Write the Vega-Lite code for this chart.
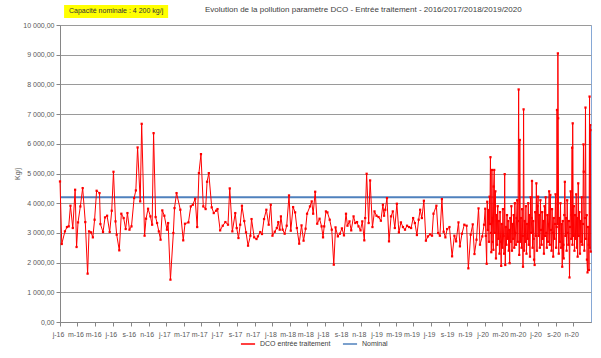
{
"$schema":"https://vega.github.io/schema/vega-lite/v6.json",
"width":531,"height":297,"autosize":"none",
"padding":{"left":60,"top":25,"right":10,"bottom":36},
"background":"white",
"config":{"font":"Liberation Sans","view":{"stroke":"#86A8D6","strokeWidth":1}},
"title":{"text":"Evolution de la pollution paramètre DCO - Entrée traitement - 2016/2017/2018/2019/2020","anchor":"start","frame":"group","dx":145,"offset":-9,"fontSize":8,"fontWeight":"normal","color":"#404040"},
"layer":[
{"data":{"values":[{"d":"2016-001","v":4200},{"d":"2020-366","v":4200}],"format":{"parse":{"d":"date:'%Y-%j'"}}},
"mark":{"type":"line","strokeWidth":1.8},
"encoding":{"x":{"field":"d","type":"temporal"},"y":{"field":"v","type":"quantitative","axis":{"values":[0,1000,2000,3000,4000,5000,6000,7000,8000,9000,10000]}},"color":{"datum":"Nominal","type":"nominal"}}},
{"data":{"values":[
{"d":"2016-001","v":4733},{"d":"2016-007","v":2626},{"d":"2016-018","v":3052},{"d":"2016-025","v":3197},{"d":"2016-031","v":3220},{"d":"2016-037","v":3915},{"d":"2016-045","v":3164},{"d":"2016-053","v":4453},{"d":"2016-058","v":2525},{"d":"2016-063","v":3354},{"d":"2016-071","v":3892},{"d":"2016-079","v":4509},{"d":"2016-088","v":3365},{"d":"2016-096","v":1628},{"d":"2016-101","v":3052},{"d":"2016-108","v":3018},{"d":"2016-114","v":2850},{"d":"2016-120","v":3444},{"d":"2016-127","v":4419},{"d":"2016-137","v":4341},{"d":"2016-140","v":3298},{"d":"2016-149","v":3029},{"d":"2016-156","v":3522},{"d":"2016-163","v":3578},{"d":"2016-172","v":3029},{"d":"2016-179","v":3747},{"d":"2016-185","v":5058},{"d":"2016-192","v":3388},{"d":"2016-196","v":2940},{"d":"2016-205","v":2413},{"d":"2016-212","v":3646},{"d":"2016-220","v":3500},{"d":"2016-227","v":3130},{"d":"2016-233","v":3668},{"d":"2016-240","v":3108},{"d":"2016-247","v":3220},{"d":"2016-256","v":4173},{"d":"2016-262","v":4430},{"d":"2016-268","v":5877},{"d":"2016-277","v":4061},{"d":"2016-282","v":6673},{"d":"2016-292","v":2906},{"d":"2016-297","v":3478},{"d":"2016-304","v":3814},{"d":"2016-312","v":3556},{"d":"2016-318","v":3276},{"d":"2016-323","v":6359},{"d":"2016-330","v":3534},{"d":"2016-335","v":3332},{"d":"2016-341","v":3050},{"d":"2016-347","v":2771},{"d":"2016-353","v":3758},{"d":"2016-360","v":3578},{"d":"2017-003","v":3108},
{"d":"2017-007","v":3332},{"d":"2017-015","v":1426},{"d":"2017-025","v":2996},{"d":"2017-029","v":3836},{"d":"2017-036","v":4341},{"d":"2017-049","v":3780},{"d":"2017-059","v":2749},{"d":"2017-065","v":3309},{"d":"2017-077","v":3354},{"d":"2017-085","v":3892},{"d":"2017-092","v":3948},{"d":"2017-100","v":4150},{"d":"2017-107","v":3197},{"d":"2017-113","v":5013},{"d":"2017-120","v":5652},{"d":"2017-128","v":3892},{"d":"2017-136","v":3803},{"d":"2017-141","v":4722},{"d":"2017-147","v":5013},{"d":"2017-157","v":3859},{"d":"2017-164","v":3668},{"d":"2017-172","v":3747},{"d":"2017-177","v":3803},{"d":"2017-186","v":3085},{"d":"2017-195","v":3242},{"d":"2017-204","v":3365},{"d":"2017-213","v":3276},{"d":"2017-219","v":4498},{"d":"2017-228","v":3052},{"d":"2017-238","v":3668},{"d":"2017-243","v":3164},{"d":"2017-249","v":2827},{"d":"2017-255","v":3276},{"d":"2017-261","v":3915},{"d":"2017-269","v":3399},{"d":"2017-275","v":3018},{"d":"2017-282","v":2570},{"d":"2017-290","v":2906},{"d":"2017-294","v":3466},{"d":"2017-303","v":2850},{"d":"2017-311","v":2794},{"d":"2017-316","v":2883},{"d":"2017-324","v":3029},{"d":"2017-330","v":2962},{"d":"2017-337","v":3466},{"d":"2017-345","v":3780},{"d":"2017-353","v":3276},{"d":"2017-360","v":3948},{"d":"2018-001","v":2906},{"d":"2018-009","v":3040},
{"d":"2018-016","v":3164},{"d":"2018-021","v":3365},{"d":"2018-026","v":3108},{"d":"2018-030","v":3556},{"d":"2018-036","v":3108},{"d":"2018-043","v":2973},{"d":"2018-050","v":3242},{"d":"2018-058","v":4262},{"d":"2018-064","v":3074},{"d":"2018-072","v":3870},{"d":"2018-079","v":3691},{"d":"2018-085","v":3164},{"d":"2018-093","v":2637},{"d":"2018-101","v":3253},{"d":"2018-108","v":2738},{"d":"2018-115","v":3141},{"d":"2018-120","v":3646},{"d":"2018-130","v":3892},{"d":"2018-136","v":4061},{"d":"2018-141","v":3646},{"d":"2018-148","v":4386},{"d":"2018-155","v":3309},{"d":"2018-163","v":3478},{"d":"2018-170","v":3220},{"d":"2018-175","v":2850},{"d":"2018-179","v":3220},{"d":"2018-185","v":3724},{"d":"2018-190","v":3691},{"d":"2018-198","v":3444},{"d":"2018-205","v":3108},{"d":"2018-212","v":1930},{"d":"2018-218","v":3186},{"d":"2018-226","v":2883},{"d":"2018-233","v":2973},{"d":"2018-240","v":3152},{"d":"2018-247","v":2917},{"d":"2018-254","v":3646},{"d":"2018-259","v":3242},{"d":"2018-266","v":3388},{"d":"2018-272","v":3085},{"d":"2018-280","v":3556},{"d":"2018-286","v":3332},{"d":"2018-292","v":3365},{"d":"2018-297","v":3220},{"d":"2018-304","v":3085},{"d":"2018-310","v":3388},{"d":"2018-317","v":2749},{"d":"2018-320","v":3500},{"d":"2018-325","v":4991},{"d":"2018-332","v":3332},{"d":"2018-337","v":4767},{"d":"2018-345","v":3197},{"d":"2018-352","v":3724},{"d":"2018-359","v":3578},{"d":"2019-001","v":3534},{"d":"2019-009","v":3410},{"d":"2019-016","v":3948},
{"d":"2019-020","v":3578},{"d":"2019-024","v":3780},{"d":"2019-030","v":4173},{"d":"2019-037","v":2715},{"d":"2019-044","v":3556},{"d":"2019-050","v":3724},{"d":"2019-057","v":3164},{"d":"2019-064","v":3982},{"d":"2019-071","v":3018},{"d":"2019-078","v":3354},{"d":"2019-085","v":3197},{"d":"2019-092","v":3108},{"d":"2019-099","v":3242},{"d":"2019-106","v":3197},{"d":"2019-113","v":3164},{"d":"2019-120","v":3500},{"d":"2019-126","v":3332},{"d":"2019-133","v":2928},{"d":"2019-139","v":3444},{"d":"2019-144","v":3780},{"d":"2019-150","v":3500},{"d":"2019-157","v":4083},{"d":"2019-164","v":2738},{"d":"2019-171","v":2883},{"d":"2019-178","v":2951},{"d":"2019-185","v":2906},{"d":"2019-190","v":3646},{"d":"2019-200","v":3915},{"d":"2019-206","v":2996},{"d":"2019-212","v":2906},{"d":"2019-219","v":4139},{"d":"2019-225","v":3040},{"d":"2019-231","v":2850},{"d":"2019-237","v":3130},{"d":"2019-245","v":3197},{"d":"2019-254","v":2211},{"d":"2019-262","v":2906},{"d":"2019-268","v":2715},{"d":"2019-276","v":3354},{"d":"2019-281","v":2547},{"d":"2019-288","v":2973},{"d":"2019-296","v":3276},{"d":"2019-304","v":3242},{"d":"2019-310","v":1807},{"d":"2019-318","v":2940},{"d":"2019-325","v":3287},{"d":"2019-331","v":2289},{"d":"2019-338","v":2771},{"d":"2019-345","v":3825},{"d":"2019-350","v":2603},{"d":"2019-358","v":2883},{"d":"2019-364","v":3276},{"d":"2020-003","v":3814},
{"d":"2020-005","v":2900},{"d":"2020-008","v":1960},{"d":"2020-010","v":4050},{"d":"2020-012","v":3100},{"d":"2020-014","v":3770},{"d":"2020-016","v":2700},{"d":"2020-018","v":4220},{"d":"2020-019","v":3300},{"d":"2020-021","v":5550},{"d":"2020-023","v":3000},{"d":"2020-024","v":2350},{"d":"2020-026","v":5120},{"d":"2020-028","v":3500},{"d":"2020-029","v":2700},{"d":"2020-031","v":2430},{"d":"2020-032","v":4560},{"d":"2020-034","v":5120},{"d":"2020-036","v":3000},{"d":"2020-038","v":4400},{"d":"2020-040","v":2140},{"d":"2020-042","v":3600},{"d":"2020-044","v":2600},{"d":"2020-046","v":3900},{"d":"2020-048","v":2800},{"d":"2020-050","v":3400},{"d":"2020-052","v":2300},{"d":"2020-054","v":3700},{"d":"2020-056","v":2700},{"d":"2020-058","v":1890},{"d":"2020-060","v":3300},{"d":"2020-062","v":2500},{"d":"2020-064","v":3800},{"d":"2020-066","v":2900},{"d":"2020-068","v":2300},{"d":"2020-070","v":4980},{"d":"2020-072","v":1920},{"d":"2020-074","v":3200},{"d":"2020-076","v":2600},{"d":"2020-078","v":3600},{"d":"2020-080","v":2800},{"d":"2020-082","v":3400},{"d":"2020-084","v":2400},{"d":"2020-086","v":3100},{"d":"2020-087","v":1980},{"d":"2020-089","v":3500},{"d":"2020-091","v":2700},{"d":"2020-093","v":3900},{"d":"2020-095","v":2400},{"d":"2020-097","v":3300},{"d":"2020-099","v":2800},{"d":"2020-101","v":3600},{"d":"2020-103","v":2500},{"d":"2020-105","v":4000},{"d":"2020-107","v":3000},{"d":"2020-109","v":2600},{"d":"2020-111","v":3500},{"d":"2020-113","v":4100},{"d":"2020-115","v":2700},{"d":"2020-116","v":3400},{"d":"2020-118","v":7830},{"d":"2020-120","v":2260},{"d":"2020-122","v":6130},{"d":"2020-124","v":2700},{"d":"2020-126","v":3500},{"d":"2020-128","v":2500},{"d":"2020-130","v":3800},{"d":"2020-132","v":2900},{"d":"2020-133","v":1860},{"d":"2020-135","v":7160},{"d":"2020-137","v":2400},{"d":"2020-139","v":3400},{"d":"2020-141","v":2700},{"d":"2020-143","v":3900},{"d":"2020-145","v":2300},{"d":"2020-147","v":3300},{"d":"2020-149","v":2800},{"d":"2020-151","v":4000},{"d":"2020-153","v":2600},{"d":"2020-155","v":3600},{"d":"2020-157","v":2200},{"d":"2020-159","v":4200},{"d":"2020-161","v":3000},{"d":"2020-163","v":3500},{"d":"2020-164","v":4750},{"d":"2020-166","v":2500},{"d":"2020-168","v":3400},{"d":"2020-170","v":2800},{"d":"2020-171","v":2100},{"d":"2020-173","v":1920},{"d":"2020-175","v":3700},{"d":"2020-177","v":2900},{"d":"2020-179","v":4670},{"d":"2020-181","v":2400},{"d":"2020-183","v":3900},{"d":"2020-185","v":4220},{"d":"2020-187","v":2900},{"d":"2020-189","v":3600},{"d":"2020-191","v":2500},{"d":"2020-193","v":4100},{"d":"2020-195","v":3100},{"d":"2020-197","v":2600},{"d":"2020-199","v":3700},{"d":"2020-201","v":2800},{"d":"2020-203","v":3400},{"d":"2020-205","v":2300},{"d":"2020-207","v":3900},{"d":"2020-209","v":2900},{"d":"2020-211","v":4200},{"d":"2020-213","v":3000},{"d":"2020-215","v":2500},{"d":"2020-217","v":3600},{"d":"2020-219","v":2700},{"d":"2020-221","v":3300},{"d":"2020-223","v":4400},{"d":"2020-225","v":2600},{"d":"2020-227","v":4280},{"d":"2020-229","v":3100},{"d":"2020-231","v":2400},{"d":"2020-233","v":3800},{"d":"2020-235","v":3000},{"d":"2020-237","v":2200},{"d":"2020-239","v":3500},{"d":"2020-241","v":2800},{"d":"2020-243","v":3300},{"d":"2020-245","v":4300},{"d":"2020-247","v":2500},{"d":"2020-249","v":3200},{"d":"2020-250","v":7140},{"d":"2020-252","v":3300},{"d":"2020-253","v":9045},{"d":"2020-254","v":6860},{"d":"2020-256","v":2300},{"d":"2020-258","v":3500},{"d":"2020-260","v":2700},{"d":"2020-262","v":4000},{"d":"2020-264","v":2500},{"d":"2020-266","v":3300},{"d":"2020-268","v":1860},{"d":"2020-270","v":3400},{"d":"2020-272","v":2600},{"d":"2020-273","v":2140},{"d":"2020-275","v":3600},{"d":"2020-277","v":4720},{"d":"2020-279","v":2900},{"d":"2020-281","v":3500},{"d":"2020-283","v":2400},{"d":"2020-285","v":4100},{"d":"2020-287","v":3000},{"d":"2020-289","v":2600},{"d":"2020-291","v":3400},{"d":"2020-293","v":1500},{"d":"2020-295","v":3200},{"d":"2020-297","v":4400},{"d":"2020-299","v":2800},{"d":"2020-300","v":3600},{"d":"2020-302","v":5870},{"d":"2020-303","v":2600},{"d":"2020-304","v":6690},{"d":"2020-306","v":2900},{"d":"2020-308","v":3900},{"d":"2020-310","v":2400},{"d":"2020-312","v":3600},{"d":"2020-314","v":2800},{"d":"2020-316","v":4300},{"d":"2020-318","v":2500},{"d":"2020-320","v":3500},{"d":"2020-321","v":2200},{"d":"2020-323","v":4670},{"d":"2020-325","v":2900},{"d":"2020-327","v":3700},{"d":"2020-329","v":2300},{"d":"2020-331","v":3400},{"d":"2020-333","v":2700},{"d":"2020-335","v":4200},{"d":"2020-337","v":2600},{"d":"2020-339","v":3300},{"d":"2020-341","v":5980},{"d":"2020-342","v":5060},{"d":"2020-344","v":2400},{"d":"2020-346","v":3500},{"d":"2020-348","v":7220},{"d":"2020-350","v":2800},{"d":"2020-352","v":3600},{"d":"2020-353","v":2100},{"d":"2020-355","v":1670},{"d":"2020-357","v":3200},{"d":"2020-359","v":2600},{"d":"2020-360","v":1750},{"d":"2020-362","v":7590},{"d":"2020-363","v":2500},{"d":"2020-364","v":6630},{"d":"2020-365","v":6460},{"d":"2020-366","v":2370}
],"format":{"parse":{"d":"date:'%Y-%j'"}}},
"mark":{"type":"line","strokeWidth":1,"point":{"filled":true,"shape":"square","size":5}},
"encoding":{
"x":{"field":"d","type":"temporal","scale":{"domain":[{"year":2016,"month":1,"date":1},{"year":2020,"month":12,"date":31,"hours":23}],"nice":false},
"axis":{"title":null,"grid":false,"tickCount":{"interval":"month","step":2},"labelExpr":"['j','f','m','a','m','j','j','a','s','o','n','d'][month(datum.value)] + '-' + timeFormat(datum.value, '%y')","labelFontSize":7,"labelColor":"#595959","tickSize":4,"tickColor":"#868686","domainColor":"#868686","labelPadding":4,"labelOffset":-2,"labelOverlap":false,"labelFlush":false}},
"y":{"field":"v","type":"quantitative","scale":{"domain":[0,10000],"nice":false},
"axis":{"title":"Kg/j","values":[0,1000,2000,3000,4000,5000,6000,7000,8000,9000,10000],"labelOverlap":false,"labelExpr":"replace(replace(format(datum.value, ',.2f'), ',', ' '), '.', ',')","grid":true,"gridColor":"#9A9A9A","tickSize":4,"tickColor":"#868686","domainColor":"#868686","labelFontSize":7,"labelColor":"#595959","labelPadding":2,"titleFontSize":7,"titleFontWeight":"normal","titleColor":"#595959","titlePadding":2}},
"color":{"datum":"DCO entrée traitement","type":"nominal","scale":{"domain":["DCO entrée traitement","Nominal"],"range":["#FF0000","#4F81BD"]},
"legend":{"orient":"none","legendX":180,"legendY":311,"direction":"horizontal","title":null,"symbolType":"stroke","symbolStrokeWidth":1.5,"symbolSize":200,"labelFontSize":7,"labelColor":"#404040","columnPadding":8}}}},
{"data":{"values":[{"label":"Capacité nominale : 4 200 kg/j"}]},
"mark":{"type":"rect","fill":"#FFFF00"},
"encoding":{"x":{"datum":{"year":2016,"month":1,"date":15},"type":"temporal"},"x2":{"datum":{"year":2017,"month":1,"date":7}},"y":{"datum":10236,"type":"quantitative","axis":{"values":[0,1000,2000,3000,4000,5000,6000,7000,8000,9000,10000]}},"y2":{"datum":10673}}},
{"data":{"values":[{"label":"Capacité nominale : 4 200 kg/j"}]},
"mark":{"type":"text","fontSize":7,"color":"#333333","align":"center","baseline":"middle"},
"encoding":{"x":{"datum":{"year":2016,"month":7,"date":12},"type":"temporal"},"y":{"datum":10455,"type":"quantitative","axis":{"values":[0,1000,2000,3000,4000,5000,6000,7000,8000,9000,10000]}},"text":{"field":"label"}}}
]
}
